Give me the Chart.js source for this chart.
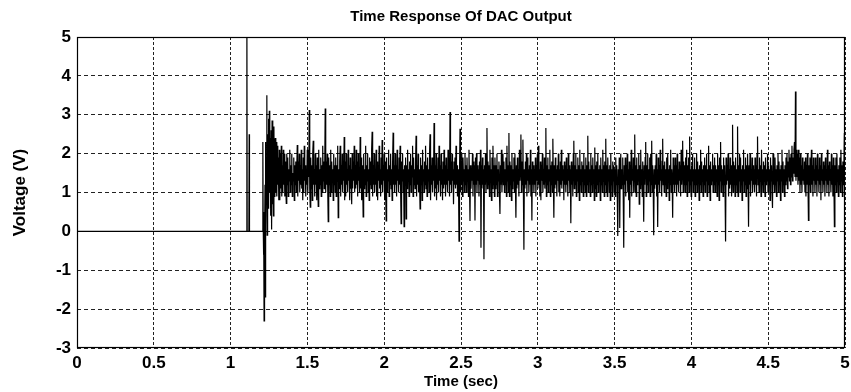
<!DOCTYPE html>
<html>
<head>
<meta charset="utf-8">
<script src="https://cdn.jsdelivr.net/npm/chart.js@4/dist/chart.umd.min.js"></script>
<style>
  html, body { margin: 0; padding: 0; background: #fff; }
  #wrap { width: 851px; height: 392px; }
</style>
</head>
<body>
<div id="wrap"><canvas id="dacChart" width="851" height="392"></canvas></div>
<script>
// start-up part of the trace (irregular spacing)
const startTimes = [0, 1.104, 1.106, 1.108, 1.119, 1.121, 1.123, 1.208, 1.210, 1.212, 1.214, 1.216,
  1.218, 1.220, 1.222, 1.224, 1.226, 1.228, 1.230, 1.233, 1.236, 1.238, 1.241, 1.244, 1.246,
  1.249, 1.252, 1.255, 1.258, 1.261, 1.264, 1.267, 1.270, 1.273, 1.276, 1.279, 1.282, 1.285, 1.288];
const startVolts = [0, 0, 5.6, 0, 0, 2.5, 0, 0, 2.3, 0.2, -0.6, 0.5,
  -2.3, 0.3, -0.4, 1.2, -1.7, 2.3, 0.1, 1.9, 3.5, -0.1, 2.5, 0.6, 2.9,
  0.8, 3.1, 1.0, 2.4, 0.4, 2.6, 0.05, 2.85, 0.7, 2.0, 0.4, 2.7, 0.9, 2.2];

// steady noisy part, one sample every sampleStep seconds from noiseStart
const noiseStart = 1.291;
const sampleStep = 0.00325;
const noiseVolts = [
  2.4, 1.0, 2.3, 0.9, 2.2, 1.2, 1.9, 0.8, 2.1, 0.8, 2.0, 1.1, 2.2, 0.9, 1.7, 1.0, 2.1, 1.2, 2.0, 0.9,
  1.8, 1.1, 0.72, 2.0, 1.2, 1.9, 0.9, 1.6, 1.3, 2.1, 1.0, 1.7, 1.2, 2.0, 0.9, 1.5, 1.3, 1.9, 0.8, 1.7,
  1.2, 1.8, 1.0, 1.6, 2.22, 0.9, 1.8, 1.3, 2.0, 1.0, 1.7, 1.2, 2.1, 1.1, 1.6, 0.8, 1.9, 1.0, 2.2, 1.3,
  1.7, 0.9, 1.6, 1.2, 2.1, 1.0, 1.8, 1.4, 3.12, 1.1, 0.62, 1.9, 1.1, 1.7, 0.8, 2.0, 2.33, 1.2, 1.6, 0.9,
  2.0, 1.2, 1.7, 0.8, 1.9, 1.3, 0.64, 2.1, 1.1, 1.6, 1.2, 1.9, 0.9, 1.7, 1.0, 2.2, 1.3, 1.8, 1.1, 1.6,
  3.16, 1.0, 1.8, 1.2, 2.0, 1.1, 0.25, 1.9, 1.2, 1.7, 0.9, 2.1, 1.0, 1.8, 1.3, 1.6, 0.8, 2.0, 1.2, 1.7,
  1.0, 1.9, 0.9, 1.7, 1.3, 2.2, 0.35, 1.6, 1.1, 1.8, 2.2, 0.9, 1.7, 1.2, 2.0, 1.0, 1.6, 1.3, 2.43, 0.8,
  1.8, 0.9, 2.0, 1.2, 1.6, 1.0, 2.1, 1.3, 1.7, 0.8, 1.9, 1.1, 1.6, 0.7, 2.0, 1.1, 1.8, 1.3, 2.2, 1.0,
  1.7, 1.1, 2.1, 1.2, 1.8, 0.9, 2.0, 1.3, 1.6, 1.0, 2.43, 1.1, 1.9, 0.8, 1.7, 1.3, 0.37, 2.0, 1.1, 1.6,
  1.2, 2.2, 0.9, 1.7, 1.3, 2.0, 1.0, 1.6, 0.8, 1.9, 1.2, 1.8, 1.1, 2.1, 2.56, 0.9, 1.7, 1.2, 2.0, 1.0,
  1.6, 1.2, 2.1, 0.9, 1.8, 0.8, 1.7, 1.3, 2.2, 1.1, 1.6, 0.9, 1.9, 1.2, 2.35, 1.0, 1.7, 1.3, 2.0, 0.8,
  1.8, 1.2, 0.27, 1.9, 1.0, 1.6, 1.3, 2.1, 0.9, 1.7, 1.2, 2.0, 1.1, 1.6, 0.8, 1.8, 2.54, 1.2, 1.7, 1.0,
  2.0, 1.2, 1.7, 0.9, 2.1, 1.3, 1.6, 1.0, 1.9, 1.2, 2.2, 1.1, 0.2, 1.8, 1.3, 2.0, 1.0, 1.6, 0.12, 1.7,
  1.2, 1.9, 0.32, 1.7, 1.1, 2.1, 1.3, 1.6, 0.9, 1.8, 1.2, 2.0, 1.0, 1.7, 1.4, 2.2, 0.9, 1.9, 1.2, 1.6,
  1.1, 1.8, 2.46, 0.9, 1.7, 1.2, 2.0, 1.0, 1.6, 1.3, 0.58, 1.9, 1.2, 1.7, 0.8, 2.1, 1.3, 1.6, 1.0, 1.8,
  1.2, 2.2, 1.1, 1.7, 0.9, 1.9, 1.3, 1.6, 1.0, 2.0, 2.5, 0.8, 1.7, 1.2, 1.9, 1.0, 1.6, 1.3, 2.79, 0.9,
  1.7, 1.1, 2.0, 0.8, 1.6, 1.2, 1.9, 1.0, 2.2, 1.3, 1.7, 0.9, 2.0, 1.2, 1.6, 0.8, 1.8, 1.1, 2.1, 1.2,
  1.7, 0.9, 1.9, 1.2, 1.6, 1.0, 2.1, 1.3, 1.7, 0.9, 3.07, 1.2, 1.8, 1.0, 2.0, 1.3, 1.6, 0.7, 1.8, 1.2,
  1.9, 1.1, 2.2, 1.2, 1.7, 0.9, 1.6, 1.3, -0.25, 1.5, 2.64, 1.0, 1.8, 1.2, 2.0, 0.9, 1.9, 1.3, 1.6, 1.0,
  2.0, 1.2, 1.7, 1.0, 1.9, 1.3, 1.6, 0.9, 2.1, 1.2, 0.27, 1.7, 1.1, 1.6, 1.3, 2.0, 0.9, 1.8, 1.2, 1.7,
  0.28, 1.9, 1.2, 2.0, 1.0, 1.7, 1.3, 1.6, 0.9, 1.8, 1.2, 2.1, -0.42, 1.7, 1.1, 1.9, 1.2, 1.6, -0.72, 1.7,
  1.2, 2.0, 1.0, 1.6, 2.66, 1.1, 1.8, 1.2, 1.7, 0.9, 2.1, 1.3, 1.6, 0.8, 1.9, 1.1, 2.2, 1.2, 1.7, 0.9,
  1.9, 1.1, 1.7, 1.2, 2.0, 0.9, 1.6, 1.3, 1.8, 1.0, 0.45, 1.7, 1.2, 2.1, 1.0, 1.6, 2.0, 1.2, 1.8, 1.0,
  1.6, 1.2, 1.9, 0.9, 2.2, 1.3, 1.7, 1.0, 2.53, 0.9, 1.8, 1.2, 1.7, 0.8, 2.0, 1.1, 1.6, 1.3, 1.9, 1.0,
  2.0, 1.2, 0.35, 1.7, 1.1, 1.9, 1.2, 1.6, 0.9, 2.1, 1.3, 1.7, 2.49, 1.0, 1.8, 1.2, 2.36, 1.0, -0.47, 1.6,
  1.1, 1.8, 1.2, 2.0, 0.9, 1.9, 1.3, 1.6, 1.0, 1.7, 1.2, 2.1, 0.9, 1.6, 0.28, 1.8, 1.2, 1.7, 1.0, 1.6,
  1.2, 1.9, 0.9, 1.7, 1.3, 2.0, 1.1, 2.2, 1.2, 1.6, 0.9, 1.8, 0.8, 1.7, 1.3, 2.0, 1.0, 1.6, 1.2, 1.9,
  1.1, 1.6, 2.66, 0.9, 1.7, 1.2, 1.9, 1.0, 1.6, 1.3, 2.1, 0.9, 1.7, 1.2, 1.8, 1.0, 2.38, 1.3, 0.35, 1.7,
  1.1, 1.9, 1.2, 1.6, 0.9, 1.7, 1.3, 2.0, 1.0, 1.6, 0.9, 1.8, 1.2, 2.1, 1.1, 1.7, 1.3, 1.6, 0.8, 1.8,
  1.2, 1.7, 1.0, 1.9, 1.2, 1.6, 0.9, 2.0, 1.3, 1.7, 1.0, 1.6, 0.21, 1.8, 1.2, 1.7, 0.9, 2.0, 2.33, 1.1,
  1.7, 1.2, 2.0, 0.9, 1.6, 1.3, 1.9, 1.0, 1.7, 0.8, 2.1, 1.2, 1.6, 1.0, 1.8, 1.3, 1.7, 0.9, 2.0, 1.2,
  1.6, 1.0, 1.9, 0.9, 1.7, 1.2, 2.46, 1.0, 1.8, 1.3, 1.6, 0.9, 2.0, 1.2, 1.7, 1.0, 1.9, 1.3, 1.6, 0.8,
  2.16, 1.1, 1.7, 0.9, 1.8, 1.2, 2.0, 1.0, 1.6, 1.3, 1.7, 0.8, 1.9, 1.2, 1.6, 1.0, 2.1, 1.3, 1.7, 0.9,
  1.8, 1.2, 2.38, 1.0, 1.7, 0.9, 1.9, 1.3, 1.6, 1.0, 1.7, 0.8, 2.0, 1.2, 1.6, 0.9, 1.8, 1.3, 1.7, 1.0,
  1.6, 0.9, 1.9, 1.2, 1.7, 1.0, -0.12, 1.6, 1.2, 1.9, 0.09, 1.7, 2.0, 1.1, 1.6, 1.2, 1.9, 0.9, -0.42, 1.7,
  1.2, 1.9, 0.9, 1.7, 1.3, 2.0, 1.0, 1.6, 0.8, 1.8, 0.35, 1.7, 1.2, 2.1, 0.9, 1.6, 1.3, 1.9, 1.0, 1.7,
  2.49, 1.0, 1.7, 0.9, 1.9, 1.2, 1.6, 1.3, 2.0, 0.7, 1.7, 1.1, 2.1, 1.2, 1.6, 0.9, 1.8, 1.3, 0.25, 1.7,
  1.2, 1.9, 2.3, 0.9, 1.7, 1.2, 2.0, 1.0, 1.6, 1.3, 1.9, 0.9, 2.0, 1.2, 2.33, 1.0, 1.7, 1.2, -0.1, 1.6,
  1.1, 1.7, 1.2, 2.0, 0.9, 1.6, 0.11, 1.9, 1.2, 1.7, 1.0, 2.1, 1.3, 1.6, 0.9, 1.8, 2.38, 1.2, 1.7, 1.0,
  1.8, 1.2, 1.6, 0.9, 1.9, 1.1, 2.0, 1.3, 1.6, 0.8, 1.7, 1.2, 2.1, 1.0, 1.6, 1.3, 0.35, 1.9, 1.2, 1.7,
  1.0, 1.9, 1.2, 1.7, 0.9, 2.0, 1.2, 1.6, 1.0, 1.8, 1.3, 1.7, 0.9, 2.1, 1.2, 1.6, 2.33, 1.0, 1.8, 1.2,
  1.7, 1.0, 1.9, 1.2, 2.1, 0.9, 1.7, 1.3, 1.9, 1.0, 2.44, 1.2, 1.6, 0.9, 1.7, 1.3, 2.0, 1.0, 1.6, 1.2,
  1.9, 0.9, 1.6, 1.2, 2.0, 1.0, 1.8, 1.3, 1.6, 0.8, 1.7, 1.2, 2.1, 1.0, 1.8, 1.3, 1.6, 0.9, 1.7, 1.2,
  1.9, 1.0, 1.7, 1.3, 2.0, 0.9, 1.6, 1.2, 2.2, 1.0, 1.7, 0.8, 1.8, 1.2, 1.6, 1.3, 2.0, 1.0, 1.7, 1.2,
  1.9, 1.0, 1.7, 1.3, 1.6, 0.9, 2.0, 1.2, 1.7, 0.8, 1.9, 1.3, 2.3, 1.0, 1.7, 1.2, 1.6, 0.9, 1.9, 1.2,
  1.7, 1.0, -0.26, 1.9, 1.2, 1.7, 1.3, 2.0, 0.9, 1.6, 1.1, 1.9, 1.2, 1.7, 0.9, 1.6, 2.74, 1.0, 1.8, 1.2,
  1.7, 0.9, 1.9, 1.2, 1.6, 1.0, 2.7, 0.9, 1.7, 1.3, 2.0, 1.0, 1.9, 1.2, 1.6, 0.8, 1.7, 1.3, 2.1, 1.0,
  1.6, 1.2, 1.9, 0.9, 1.7, 1.1, 2.0, 1.3, 0.12, 1.7, 1.2, 2.0, 0.9, 1.6, 1.3, 1.9, 1.0, 1.7, 1.2, 1.6,
  1.0, 1.9, 1.2, 1.7, 0.9, 2.0, 2.44, 1.2, 1.6, 1.0, 1.9, 1.3, 1.7, 0.9, 2.1, 1.2, 1.6, 1.0, 1.8, 1.3,
  1.7, 0.9, 1.9, 1.2, 1.6, 1.3, 2.0, 1.0, 1.7, 1.2, 1.6, 0.8, 1.9, 1.3, 1.7, 1.0, 0.6, 2.0, 1.2, 1.7,
  1.0, 1.9, 1.2, 1.6, 0.9, 1.7, 1.3, 2.0, 1.0, 1.8, 1.2, 1.6, 0.8, 1.7, 1.3, 2.1, 1.0, 1.8, 1.2, 1.6,
  0.9, 1.7, 1.2, 1.9, 1.3, 2.0, 1.1, 1.8, 1.4, 2.1, 1.3, 1.9, 1.2, 2.0, 1.4, 2.2, 1.3, 1.9, 1.5, 2.1,
  2.3, 1.4, 3.6, 1.3, 2.1, 1.4, 2.0, 1.2, 2.1, 1.3, 1.9, 1.0, 2.0, 1.2, 1.7, 1.0, 1.9, 1.3, 1.6, 1.2,
  1.8, 1.0, 1.9, 0.9, 1.7, 1.2, 2.0, 1.3, 0.28, 1.7, 1.2, 1.9, 1.0, 1.6, 2.1, 1.2, 1.7, 0.9, 1.9, 1.3,
  1.6, 1.0, 1.9, 1.2, 1.7, 0.9, 2.0, 1.3, 1.6, 1.0, 1.9, 1.2, 1.7, 0.8, 2.0, 1.3, 1.6, 1.0, 1.8, 1.2,
  1.7, 0.9, 1.9, 1.3, 1.6, 1.0, 2.1, 1.2, 1.7, 0.9, 1.8, 1.3, 1.6, 1.0, 2.0, 1.2, 1.7, 0.9, 1.9, 1.3,
  0.12, 1.7, 1.2, 1.9, 1.0, 2.0, 1.3, 1.6, 0.9, 1.7, 1.2, 1.9, 1.0, 2.1, 1.3, 1.7, 0.9, 1.8, 1.2, 1.6,
  2.53, 1.2, 1.7, 1.4
];

const points = startTimes.map((t, i) => ({ x: t, y: startVolts[i] }))
  .concat(noiseVolts.map((v, i) => ({ x: noiseStart + i * sampleStep, y: v })));

const fontFamily = "'Liberation Sans', Arial, Helvetica, sans-serif";

// MATLAB-like solid frame round the axes
const boxPlugin = {
  id: "box",
  afterDraw(chart) {
    const { ctx, chartArea: a } = chart;
    ctx.save();
    ctx.strokeStyle = "#000";
    ctx.lineWidth = 1.2;
    ctx.setLineDash([]);
    ctx.strokeRect(a.left + 0.5, a.top + 0.5, a.right - a.left - 1, a.bottom - a.top - 1);
    ctx.restore();
  },
};

new Chart(document.getElementById("dacChart"), {
  type: "line",
  data: {
    datasets: [{
      data: points,
      borderColor: "#000",
      borderWidth: 1.2,
      pointRadius: 0,
      tension: 0,
      fill: false,
    }],
  },
  options: {
    responsive: false,
    animation: false,
    devicePixelRatio: 1,
    layout: { padding: { left: 0, right: 6, top: 0, bottom: 0 } },
    plugins: {
      legend: { display: false },
      tooltip: { enabled: false },
      title: {
        display: true,
        text: "Time Response Of DAC Output",
        fullSize: false,
        color: "#000",
        font: { family: fontFamily, size: 15, weight: "bold" },
        padding: { top: 8, bottom: 11 },
      },
    },
    scales: {
      x: {
        type: "linear",
        min: 0,
        max: 5,
        afterFit(scale) {
          scale.height = 44;
          scale.paddingLeft = 0;
          scale.paddingRight = 0;
        },
        ticks: {
          stepSize: 0.5,
          padding: 5,
          color: "#000",
          maxRotation: 0,
          font: { family: fontFamily, size: 17, weight: "bold" },
          callback: (v) => String(v),
        },
        grid: { color: "#222", drawTicks: false, lineWidth: 1 },
        border: { display: false, dash: [3, 2] },
        title: {
          display: true,
          text: "Time (sec)",
          color: "#000",
          font: { family: fontFamily, size: 15, weight: "bold" },
          padding: { top: 0, bottom: 1 },
        },
      },
      y: {
        min: -3,
        max: 5,
        afterFit(scale) {
          scale.width = 77;
          scale.paddingTop = 0;
          scale.paddingBottom = 0;
        },
        ticks: {
          stepSize: 1,
          padding: 6,
          color: "#000",
          font: { family: fontFamily, size: 17, weight: "bold" },
          callback: (v) => String(v),
        },
        grid: { color: "#222", drawTicks: false, lineWidth: 1 },
        border: { display: false, dash: [4, 3] },
        title: {
          display: true,
          text: "Voltage (V)",
          color: "#000",
          font: { family: fontFamily, size: 17, weight: "bold" },
          padding: { top: 10, bottom: 0 },
        },
      },
    },
  },
  plugins: [boxPlugin],
});
</script>
</body>
</html>
